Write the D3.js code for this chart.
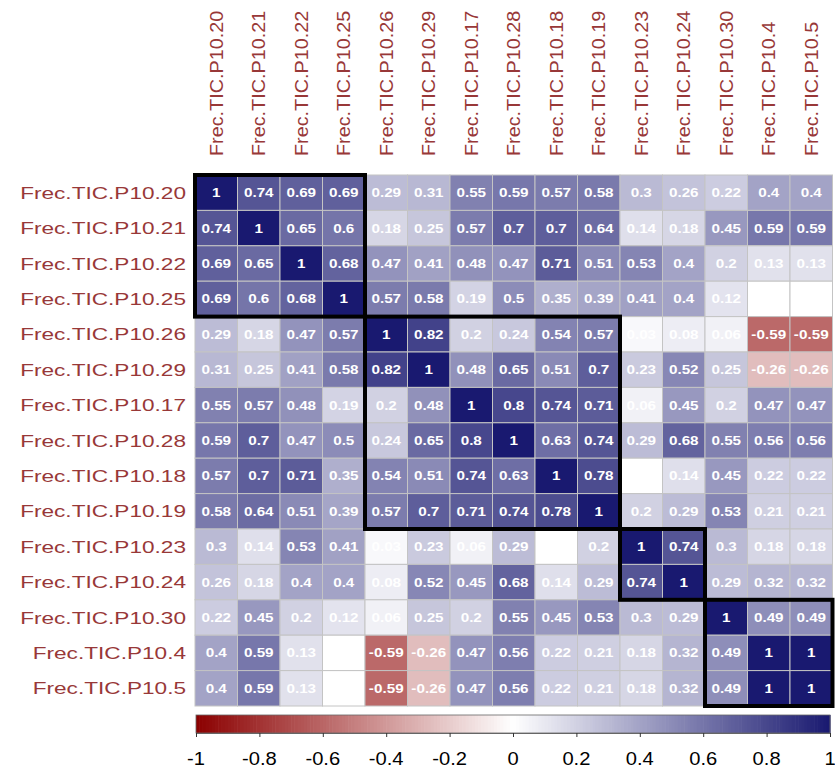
<!DOCTYPE html>
<html><head><meta charset="utf-8">
<script src="https://cdn.jsdelivr.net/npm/d3@7"></script>
<style>html,body{margin:0;padding:0;background:#fff;}svg{display:block;}</style>
</head><body>
<script>
const labels = ["Frec.TIC.P10.20","Frec.TIC.P10.21","Frec.TIC.P10.22","Frec.TIC.P10.25","Frec.TIC.P10.26","Frec.TIC.P10.29","Frec.TIC.P10.17","Frec.TIC.P10.28","Frec.TIC.P10.18","Frec.TIC.P10.19","Frec.TIC.P10.23","Frec.TIC.P10.24","Frec.TIC.P10.30","Frec.TIC.P10.4","Frec.TIC.P10.5"];
const rowP10_20 = [1, 0.74, 0.69, 0.69, 0.29, 0.31, 0.55, 0.59, 0.57, 0.58, 0.3, 0.26, 0.22, 0.4, 0.4];
const rowP10_21 = [0.74, 1, 0.65, 0.6, 0.18, 0.25, 0.57, 0.7, 0.7, 0.64, 0.14, 0.18, 0.45, 0.59, 0.59];
const rowP10_22 = [0.69, 0.65, 1, 0.68, 0.47, 0.41, 0.48, 0.47, 0.71, 0.51, 0.53, 0.4, 0.2, 0.13, 0.13];
const rowP10_25 = [0.69, 0.6, 0.68, 1, 0.57, 0.58, 0.19, 0.5, 0.35, 0.39, 0.41, 0.4, 0.12, 0, 0];
const rowP10_26 = [0.29, 0.18, 0.47, 0.57, 1, 0.82, 0.2, 0.24, 0.54, 0.57, 0.03, 0.08, 0.06, -0.59, -0.59];
const rowP10_29 = [0.31, 0.25, 0.41, 0.58, 0.82, 1, 0.48, 0.65, 0.51, 0.7, 0.23, 0.52, 0.25, -0.26, -0.26];
const rowP10_17 = [0.55, 0.57, 0.48, 0.19, 0.2, 0.48, 1, 0.8, 0.74, 0.71, 0.06, 0.45, 0.2, 0.47, 0.47];
const rowP10_28 = [0.59, 0.7, 0.47, 0.5, 0.24, 0.65, 0.8, 1, 0.63, 0.74, 0.29, 0.68, 0.55, 0.56, 0.56];
const rowP10_18 = [0.57, 0.7, 0.71, 0.35, 0.54, 0.51, 0.74, 0.63, 1, 0.78, 0, 0.14, 0.45, 0.22, 0.22];
const rowP10_19 = [0.58, 0.64, 0.51, 0.39, 0.57, 0.7, 0.71, 0.74, 0.78, 1, 0.2, 0.29, 0.53, 0.21, 0.21];
const rowP10_23 = [0.3, 0.14, 0.53, 0.41, 0.03, 0.23, 0.06, 0.29, 0, 0.2, 1, 0.74, 0.3, 0.18, 0.18];
const rowP10_24 = [0.26, 0.18, 0.4, 0.4, 0.08, 0.52, 0.45, 0.68, 0.14, 0.29, 0.74, 1, 0.29, 0.32, 0.32];
const rowP10_30 = [0.22, 0.45, 0.2, 0.12, 0.06, 0.25, 0.2, 0.55, 0.45, 0.53, 0.3, 0.29, 1, 0.49, 0.49];
const rowP10_4  = [0.4, 0.59, 0.13, 0, -0.59, -0.26, 0.47, 0.56, 0.22, 0.21, 0.18, 0.32, 0.49, 1, 1];
const rowP10_5  = [0.4, 0.59, 0.13, 0, -0.59, -0.26, 0.47, 0.56, 0.22, 0.21, 0.18, 0.32, 0.49, 1, 1];
const clusters = [[0,3],[4,9],[10,11],[12,14]];
const legendTicks = [-1,-0.8,-0.6,-0.4,-0.2,0,0.2,0.4,0.6,0.8,1];

const matrix = [rowP10_20,rowP10_21,rowP10_22,rowP10_25,rowP10_26,rowP10_29,rowP10_17,rowP10_28,rowP10_18,rowP10_19,rowP10_23,rowP10_24,rowP10_30,rowP10_4,rowP10_5];
const cells = [];
matrix.forEach((r,i)=>r.forEach((v,j)=>cells.push({i,j,v})));

const W=835,H=768;
const gx0=195, gx1=832.5, gy0=175, gy1=706;
const svg = d3.select("body").append("svg").attr("width",W).attr("height",H);
const x = d3.scaleBand().domain(d3.range(labels.length)).range([gx0,gx1]).padding(0);
const y = d3.scaleBand().domain(d3.range(labels.length)).range([gy0,gy1]).padding(0);
const color = d3.scaleLinear().domain([-1,0,1]).range(["#8B0000","#FFFFFF","#191970"]).interpolate(d3.interpolateRgb);
const font = "'Liberation Sans', Arial, sans-serif";
const labCol = "#983838";

// cells
svg.append("g").selectAll("rect").data(cells).join("rect")
  .attr("x",d=>x(d.j)).attr("y",d=>y(d.i))
  .attr("width",x.bandwidth()).attr("height",y.bandwidth())
  .attr("fill",d=>color(d.v)).attr("stroke","#C4C4C4").attr("stroke-width",1);

// cell text
svg.append("g").selectAll("text").data(cells).join("text")
  .attr("transform",d=>`translate(${x(d.j)+x.bandwidth()/2},${y(d.i)+y.bandwidth()/2}) scale(1.22,1)`)
  .attr("text-anchor","middle").attr("dy","0.36em")
  .attr("font-family",font).attr("font-weight","bold").attr("font-size",12.5)
  .attr("fill","#FFFFFF").text(d=>String(+d.v.toFixed(2)));

// row labels
svg.append("g").selectAll("text").data(labels).join("text")
  .attr("transform",(d,i)=>`translate(186,${y(i)+y.bandwidth()/2}) scale(1.33,1)`)
  .attr("text-anchor","end").attr("dy","0.36em")
  .attr("font-family",font).attr("font-size",17).attr("fill",labCol).text(d=>d);

// column labels
svg.append("g").selectAll("text").data(labels).join("text")
  .attr("transform",(d,i)=>`translate(${x(i)+x.bandwidth()/2},156) rotate(-90) scale(1.1,1)`)
  .attr("text-anchor","start").attr("dy","0.36em")
  .attr("font-family",font).attr("font-size",18).attr("fill",labCol).text(d=>d);

// cluster rectangles
svg.append("g").selectAll("rect").data(clusters).join("rect")
  .attr("x",d=>x(d[0])).attr("y",d=>y(d[0]))
  .attr("width",d=>x(d[1])+x.bandwidth()-x(d[0]))
  .attr("height",d=>y(d[1])+y.bandwidth()-y(d[0]))
  .attr("fill","none").attr("stroke","#000").attr("stroke-width",4);

// colorbar
const lx = d3.scaleLinear().domain([-1,1]).range([196,830]);
const steps = d3.range(200).map(k=>-1+2*k/200);
svg.append("g").selectAll("rect").data(steps).join("rect")
  .attr("x",d=>lx(d)).attr("y",715).attr("width",lx(-1+2/200)-lx(-1)+0.6).attr("height",18)
  .attr("fill",d=>color(d+1/200));
svg.append("rect").attr("x",lx(-1)).attr("y",715).attr("width",lx(1)-lx(-1)).attr("height",18)
  .attr("fill","none").attr("stroke","#666").attr("stroke-width",0.8);
const ax = svg.append("g").attr("transform","translate(0,733)")
  .call(d3.axisBottom(lx).tickValues(legendTicks).tickSize(4).tickFormat(()=>""));
ax.select(".domain").attr("stroke","#666");
ax.selectAll(".tick line").attr("stroke","#333");
svg.append("g").selectAll("text").data(legendTicks).join("text")
  .attr("transform",d=>`translate(${lx(d)},765) scale(1.12,1)`)
  .attr("text-anchor","middle").attr("font-family",font).attr("font-size",18).attr("fill","#000")
  .text(d=>String(d));
</script>
</body></html>
